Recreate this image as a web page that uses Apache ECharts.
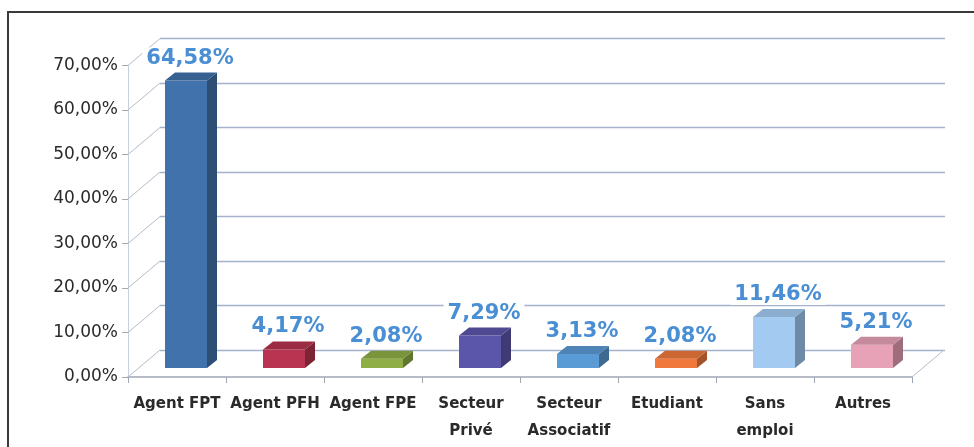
<!DOCTYPE html>
<html>
<head>
<meta charset="utf-8">
<script src="https://cdn.jsdelivr.net/npm/echarts@6/dist/echarts.min.js"></script>
<style>html,body{margin:0;padding:0;background:#fff}#c{width:974px;height:447px}</style>
</head>
<body>
<div id="c"></div>
<script>
var categories = ['Agent FPT', 'Agent PFH', 'Agent FPE', 'Secteur\nPrivé', 'Secteur\nAssociatif', 'Etudiant', 'Sans\nemploi', 'Autres'];
var values = [64.58, 4.17, 2.08, 7.29, 3.13, 2.08, 11.46, 5.21];
var barColors = ['#4272ac', '#b83450', '#8fae45', '#5c56ab', '#5b9bd5', '#f0783c', '#a3cbf2', '#e8a2b8'];
var yTicks = [0, 10, 20, 30, 40, 50, 60, 70];

function pct(v) { return v.toFixed(2).replace('.', ',') + '%'; }
function shade(hex, f) {
  var n = parseInt(hex.slice(1), 16);
  var r = Math.round(((n >> 16) & 255) * f), g = Math.round(((n >> 8) & 255) * f), b = Math.round((n & 255) * f);
  return 'rgb(' + r + ',' + g + ',' + b + ')';
}

var chart = echarts.init(document.getElementById('c'), null, {renderer: 'canvas'});
var FONT = 'DejaVu Sans';
var DX = 32, DY = -27;   // depth of the 3D box
var BOX = 9;             // bar depth position
var BW = 42, BD = 10, BDY = -8;

chart.setOption({
  backgroundColor: '#fff',
  animation: false,
  graphic: [{
    type: 'rect', z: 100,
    shape: {x: 8, y: 12, width: 1000, height: 500},
    style: {fill: 'none', stroke: '#3a3a3a', lineWidth: 2}
  }],
  grid: [
    {left: 128, right: 62, top: 65.5, bottom: 70},
    {left: 160, right: 29, top: 38.5, bottom: 97}
  ],
  xAxis: [{
    type: 'category', gridIndex: 0, data: categories,
    axisLine: {show: true, lineStyle: {color: '#a0a8b4', width: 1.5}},
    axisTick: {show: true, length: 6, lineStyle: {color: '#a0a8b4'}},
    axisLabel: {interval: 0, color: '#2a2a2a', fontFamily: FONT, fontWeight: 'bold', fontSize: 15, lineHeight: 27, margin: 14}
  }, {
    type: 'category', gridIndex: 1, data: categories, show: false
  }],
  yAxis: [{
    type: 'value', gridIndex: 0, min: 0, max: 70, interval: 10,
    axisLine: {show: true, lineStyle: {color: '#c8d0dc'}},
    axisTick: {show: true, length: 6, lineStyle: {color: '#a0a8b4'}},
    splitLine: {show: false},
    axisLabel: {formatter: function (v) { return pct(v); }, color: '#2a2a2a', fontFamily: FONT, fontSize: 17, margin: 10}
  }, {
    type: 'value', gridIndex: 1, min: 0, max: 70, interval: 10,
    axisLine: {show: false}, axisTick: {show: false}, axisLabel: {show: false},
    splitLine: {show: true, lineStyle: {color: '#a4b2cc', width: 1.3}}
  }],
  series: [{
    // left wall / floor depth lines
    type: 'custom', xAxisIndex: 0, yAxisIndex: 0, silent: true, z: 1,
    data: yTicks.map(function (t) { return [0, t]; }),
    renderItem: function (params, api) {
      var p = api.coord([0, api.value(1)]);
      var half = api.size([1, 0])[0] / 2;
      var x0 = p[0] - half, y0 = p[1];
      var els = [{type: 'line', shape: {x1: x0, y1: y0, x2: x0 + DX, y2: y0 + DY},
        style: {stroke: '#b4bccb', lineWidth: 1}}];
      if (api.value(1) === 0) {
        var pr = api.coord([categories.length - 1, 0]);
        var xr = pr[0] + half;
        els.push({type: 'line', shape: {x1: xr, y1: y0, x2: xr + DX, y2: y0 + DY},
          style: {stroke: '#b4bccb', lineWidth: 1}});
      }
      return {type: 'group', children: els};
    }
  }, {
    type: 'custom', xAxisIndex: 0, yAxisIndex: 0, z: 5,
    data: values.map(function (v, i) { return [i, v]; }),
    renderItem: function (params, api) {
      var i = api.value(0), v = api.value(1);
      var base = api.coord([i, 0]);
      var top = api.coord([i, v]);
      var cx = base[0] + BOX;
      var yb = base[1] - BOX, yt = top[1] - BOX;
      var x = cx - BW / 2;
      var col = barColors[i];
      var side = shade(col, 0.68);
      var topc = shade(col, 0.85);
      return {type: 'group', children: [
        {type: 'rect', shape: {x: x, y: yt, width: BW, height: yb - yt}, style: {fill: col}},
        {type: 'polygon', shape: {points: [[x + BW, yt], [x + BW + BD, yt + BDY], [x + BW + BD, yb + BDY], [x + BW, yb]]}, style: {fill: side}},
        {type: 'polygon', shape: {points: [[x, yt], [x + BD, yt + BDY], [x + BW + BD, yt + BDY], [x + BW, yt]]}, style: {fill: topc}},
        {type: 'text', x: cx + 4, y: yt + BDY - 4, style: {
          text: pct(v), fill: '#4a8fd4', font: 'bold 21px "DejaVu Sans"',
          align: 'center', verticalAlign: 'bottom', backgroundColor: '#fff', padding: [0, 4]
        }}
      ]};
    }
  }]
});
</script>
</body>
</html>
